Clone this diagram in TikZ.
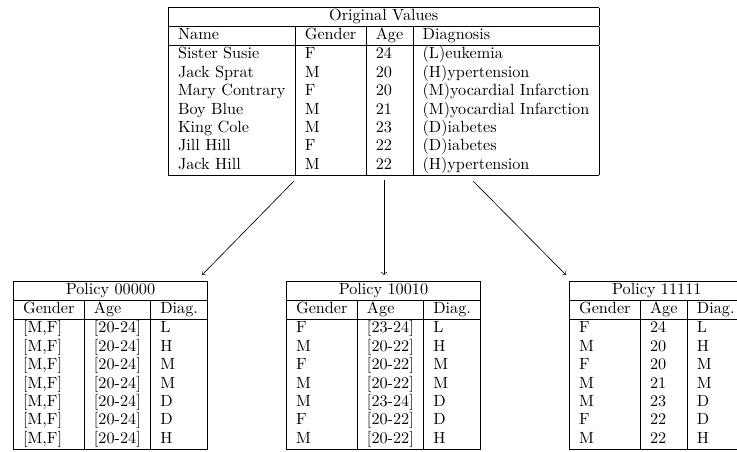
\documentclass[tikz,border=0pt]{standalone}
\usepackage{amsmath}
\usepackage{tikz}
\usetikzlibrary{shapes,arrows,positioning,calc}
\renewcommand{\arraystretch}{0.945}

\begin{document}
\begin{tikzpicture}[
    x=0.617pt, y=-0.617pt,
    tablebox/.style={inner sep=0pt, anchor=north west},
    gen/.style={->, thin}
]
    \useasboundingbox (0,0) rectangle (737,451);

    \node[tablebox] (orig) at (168,7) {%
        \begin{tabular}{|l|l|l|l|}
        \hline
        \multicolumn{4}{|c|}{Original Values} \\ \hline
        Name & Gender & Age & Diagnosis \\ \hline
        Sister Susie & F & 24 & (L)eukemia \\
        Jack Sprat & M & 20 & (H)ypertension \\
        Mary Contrary & F & 20 & (M)yocardial Infarction \\
        Boy Blue & M & 21 & (M)yocardial Infarction \\
        King Cole & M & 23 & (D)iabetes \\
        Jill Hill & F & 22 & (D)iabetes \\
        Jack Hill & M & 22 & (H)ypertension \\ \hline
        \end{tabular}};

    \node[tablebox] (p00000) at (13,281) {%
        \begin{tabular}{|l|l|l|}
        \hline
        \multicolumn{3}{|c|}{Policy 00000} \\ \hline
        Gender & Age & Diag. \\ \hline
        {[M,F]} & [20-24] & L \\
        {[M,F]} & [20-24] & H \\
        {[M,F]} & [20-24] & M \\
        {[M,F]} & [20-24] & M \\
        {[M,F]} & [20-24] & D \\
        {[M,F]} & [20-24] & D \\
        {[M,F]} & [20-24] & H \\ \hline
        \end{tabular}};

    \node[tablebox] (p10010) at (286,281) {%
        \begin{tabular}{|l|l|l|}
        \hline
        \multicolumn{3}{|c|}{Policy 10010} \\ \hline
        Gender & Age & Diag. \\ \hline
        F & [23-24] & L \\
        M & [20-22] & H \\
        F & [20-22] & M \\
        M & [20-22] & M \\
        M & [23-24] & D \\
        F & [20-22] & D \\
        M & [20-22] & H \\ \hline
        \end{tabular}};

    \node[tablebox] (p11111) at (569,281) {%
        \begin{tabular}{|l|l|l|}
        \hline
        \multicolumn{3}{|c|}{Policy 11111} \\ \hline
        Gender & Age & Diag. \\ \hline
        F & 24 & L \\
        M & 20 & H \\
        F & 20 & M \\
        M & 21 & M \\
        M & 23 & D \\
        F & 22 & D \\
        M & 22 & H \\ \hline
        \end{tabular}};

    % arrows from the original table down to the policies
    \coordinate (s1) at (294,181);
    \coordinate (s2) at (384,180);
    \coordinate (s3) at (473,181);
    \coordinate (e1) at (202,275);
    \coordinate (e2) at (384,275);
    \coordinate (e3) at (566,275);

    \draw[gen] (s1) -- (e1);
    \draw[gen] (s2) -- (e2);
    \draw[gen] (s3) -- (e3);
\end{tikzpicture}
\end{document}
